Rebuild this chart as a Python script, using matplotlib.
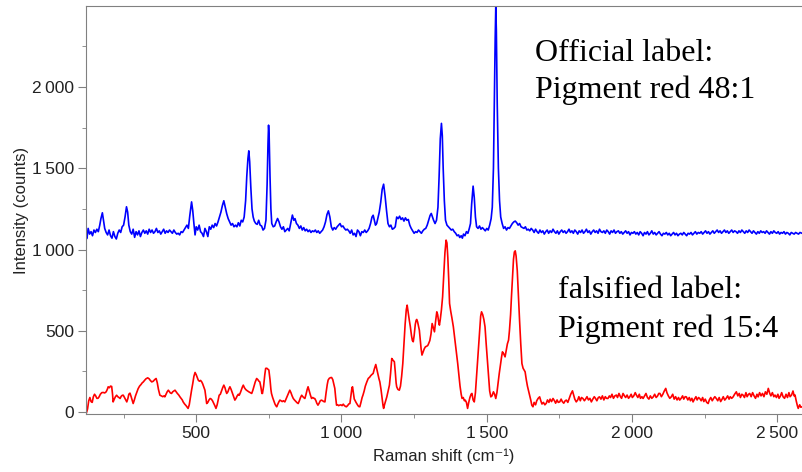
import numpy as np
import matplotlib
matplotlib.use('Agg')
import matplotlib.pyplot as plt
from matplotlib.ticker import MultipleLocator, FuncFormatter

plt.rcParams['font.family'] = ['Liberation Sans', 'DejaVu Sans']

# blue: official label, Pigment red 48:1 (shift cm-1, counts)
blue_shift = [
    120, 124, 128, 133, 138, 143, 148, 153, 158, 163, 168, 172, 177, 181, 185, 190, 195, 200, 205, 210,
    215, 220, 225, 230, 235, 240, 245, 250, 255, 260, 264, 268, 273, 278, 283, 288, 293, 298, 303, 308,
    313, 318, 323, 328, 333, 338, 343, 348, 353, 358, 363, 368, 373, 378, 383, 388, 393, 398, 403, 408,
    413, 418, 423, 428, 433, 438, 443, 448, 453, 458, 463, 468, 473, 478, 484, 488, 492, 496, 500, 505,
    510, 515, 520, 525, 530, 535, 540, 545, 550, 555, 560, 565, 570, 575, 580, 585, 590, 595, 600, 605,
    610, 615, 620, 625, 630, 635, 640, 645, 650, 655, 660, 665, 670, 674, 678, 681, 684, 688, 692, 696,
    700, 705, 710, 715, 720, 725, 730, 735, 740, 744, 747, 749, 751, 754, 757, 760, 765, 770, 775, 780,
    785, 790, 795, 800, 805, 810, 815, 820, 825, 831, 836, 840, 845, 850, 855, 860, 865, 870, 875, 880,
    885, 890, 895, 900, 905, 910, 915, 920, 925, 930, 935, 940, 945, 950, 955, 960, 965, 970, 975, 980,
    985, 990, 995, 1000, 1005, 1010, 1015, 1020, 1025, 1030, 1035, 1040, 1045, 1050, 1055, 1060, 1065, 1070, 1075, 1080,
    1085, 1090, 1095, 1100, 1105, 1109, 1113, 1117, 1121, 1125, 1130, 1135, 1140, 1145, 1150, 1155, 1160, 1165, 1170, 1175,
    1180, 1185, 1190, 1195, 1200, 1205, 1210, 1215, 1220, 1225, 1230, 1235, 1240, 1245, 1250, 1255, 1260, 1265, 1270, 1275,
    1280, 1285, 1290, 1295, 1300, 1305, 1309, 1313, 1317, 1322, 1327, 1332, 1336, 1340, 1344, 1347, 1350, 1354, 1358, 1363,
    1368, 1373, 1378, 1383, 1388, 1393, 1398, 1403, 1407, 1412, 1416, 1420, 1425, 1430, 1435, 1440, 1444, 1448, 1453, 1457,
    1461, 1465, 1470, 1475, 1480, 1485, 1490, 1495, 1500, 1505, 1510, 1515, 1519, 1523, 1526, 1529, 1531, 1533, 1536, 1540,
    1544, 1548, 1553, 1558, 1563, 1568, 1573, 1578, 1583, 1588, 1593, 1598, 1603, 1608, 1613, 1618, 1623, 1628, 1633, 1638,
    1643, 1648, 1653, 1658, 1663, 1668, 1673, 1678, 1683, 1688, 1693, 1698, 1703, 1708, 1713, 1718, 1723, 1728, 1733, 1738,
    1743, 1748, 1753, 1758, 1763, 1768, 1773, 1778, 1783, 1788, 1793, 1798, 1803, 1808, 1813, 1818, 1823, 1828, 1833, 1838,
    1843, 1848, 1853, 1858, 1863, 1868, 1873, 1878, 1883, 1888, 1893, 1898, 1903, 1908, 1913, 1918, 1923, 1928, 1933, 1938,
    1943, 1948, 1953, 1958, 1963, 1968, 1973, 1978, 1983, 1988, 1993, 1998, 2003, 2008, 2013, 2018, 2023, 2028, 2033, 2038,
    2043, 2048, 2053, 2058, 2063, 2068, 2073, 2078, 2083, 2088, 2093, 2098, 2103, 2108, 2113, 2118, 2123, 2128, 2133, 2138,
    2143, 2148, 2153, 2158, 2163, 2168, 2173, 2178, 2183, 2188, 2193, 2198, 2203, 2208, 2213, 2218, 2223, 2228, 2233, 2238,
    2243, 2248, 2253, 2258, 2263, 2268, 2273, 2278, 2283, 2288, 2293, 2298, 2303, 2308, 2313, 2318, 2323, 2328, 2333, 2338,
    2343, 2348, 2353, 2358, 2363, 2368, 2373, 2378, 2383, 2388, 2393, 2398, 2403, 2408, 2413, 2418, 2423, 2428, 2433, 2438,
    2443, 2448, 2453, 2458, 2463, 2468, 2473, 2478, 2483, 2488, 2493, 2498, 2503, 2508, 2513, 2518, 2523, 2528, 2533, 2538,
    2543, 2548, 2553, 2558, 2563, 2568, 2573, 2578, 2585]
blue_counts = [
    1075, 1068, 1130, 1095, 1110, 1085, 1120, 1105, 1125, 1110, 1150, 1190, 1226, 1180, 1130, 1105, 1090, 1120, 1085, 1070,
    1110, 1080, 1065, 1100, 1120, 1105, 1140, 1150, 1200, 1263, 1230, 1150, 1110, 1095, 1125, 1075, 1110, 1090, 1115, 1080,
    1105, 1120, 1100, 1115, 1095, 1125, 1105, 1120, 1100, 1110, 1130, 1105, 1115, 1095, 1110, 1125, 1100, 1115, 1105, 1120,
    1110, 1100, 1120, 1105, 1095, 1100, 1090, 1110, 1105, 1120, 1135, 1150, 1130, 1210, 1293, 1240, 1160, 1090, 1140, 1120,
    1150, 1110, 1100, 1080, 1130, 1110, 1080, 1140, 1125, 1150, 1135, 1160, 1145, 1170, 1200, 1230, 1270, 1300, 1260, 1220,
    1190, 1170, 1150, 1160, 1140, 1150, 1140, 1165, 1145, 1180, 1170, 1200, 1300, 1450, 1560, 1607, 1540, 1380, 1250, 1200,
    1175, 1160, 1155, 1180, 1150, 1145, 1120, 1130, 1180, 1400, 1650, 1765, 1700, 1450, 1250, 1160, 1140, 1145, 1170, 1191,
    1170, 1140, 1125, 1140, 1110, 1120, 1130, 1115, 1160, 1212, 1180, 1190, 1160, 1150, 1130, 1145, 1120, 1135, 1115, 1125,
    1110, 1120, 1105, 1115, 1110, 1120, 1105, 1115, 1100, 1110, 1120, 1140, 1170, 1215, 1238, 1200, 1140, 1120, 1135, 1125,
    1140, 1150, 1160, 1140, 1145, 1130, 1120, 1125, 1115, 1100, 1120, 1090, 1100, 1080, 1120, 1110, 1085, 1110, 1105, 1120,
    1105, 1115, 1130, 1160, 1200, 1211, 1180, 1150, 1160, 1190, 1230, 1290, 1370, 1402, 1330, 1240, 1160, 1140, 1150, 1125,
    1130, 1140, 1200, 1190, 1205, 1185, 1195, 1175, 1195, 1180, 1185, 1150, 1130, 1115, 1100, 1110, 1105, 1120, 1110, 1100,
    1115, 1125, 1130, 1150, 1180, 1210, 1222, 1200, 1180, 1160, 1180, 1260, 1450, 1680, 1776, 1700, 1500, 1300, 1180, 1150,
    1140, 1130, 1120, 1125, 1110, 1100, 1085, 1090, 1074, 1085, 1070, 1095, 1085, 1110, 1100, 1130, 1160, 1280, 1390, 1320,
    1200, 1140, 1130, 1145, 1125, 1135, 1125, 1115, 1130, 1120, 1150, 1190, 1260, 1500, 1900, 2300, 2490, 2350, 1900, 1500,
    1300, 1200, 1160, 1130, 1140, 1120, 1135, 1130, 1145, 1160, 1170, 1175, 1165, 1150, 1160, 1140, 1135, 1130, 1140, 1120,
    1125, 1115, 1130, 1120, 1105, 1125, 1110, 1100, 1120, 1105, 1115, 1095, 1110, 1120, 1100, 1115, 1105, 1125, 1110, 1100,
    1115, 1095, 1110, 1120, 1105, 1115, 1100, 1110, 1125, 1105, 1115, 1100, 1120, 1110, 1095, 1115, 1105, 1120, 1100, 1110,
    1125, 1105, 1115, 1095, 1110, 1120, 1105, 1115, 1100, 1125, 1110, 1105, 1115, 1100, 1120, 1110, 1095, 1115, 1105, 1120,
    1100, 1110, 1115, 1100, 1110, 1095, 1105, 1115, 1100, 1110, 1090, 1105, 1100, 1110, 1095, 1105, 1090, 1110, 1100, 1085,
    1105, 1095, 1110, 1090, 1100, 1115, 1095, 1105, 1090, 1100, 1110, 1095, 1085, 1100, 1095, 1105, 1090, 1100, 1085, 1095,
    1105, 1090, 1100, 1085, 1095, 1100, 1090, 1105, 1095, 1085, 1100, 1095, 1105, 1090, 1100, 1110, 1095, 1105, 1100, 1110,
    1095, 1105, 1115, 1100, 1110, 1095, 1105, 1115, 1100, 1110, 1120, 1105, 1115, 1100, 1110, 1120, 1105, 1115, 1100, 1110,
    1120, 1105, 1115, 1110, 1100, 1115, 1105, 1120, 1110, 1100, 1115, 1105, 1120, 1110, 1100, 1115, 1105, 1095, 1110, 1100,
    1115, 1105, 1110, 1100, 1115, 1105, 1095, 1110, 1100, 1115, 1105, 1100, 1110, 1095, 1105, 1100, 1110, 1095, 1105, 1100,
    1090, 1105, 1100, 1095, 1105, 1100, 1095, 1105, 1100]

# red: falsified label, Pigment red 15:4
red_shift = [
    122, 126, 130, 134, 138, 142, 146, 150, 154, 158, 162, 166, 170, 175, 180, 185, 190, 194, 197, 201,
    205, 209, 212, 214, 218, 222, 226, 230, 234, 238, 242, 246, 249, 253, 257, 261, 265, 268, 272, 276,
    280, 283, 287, 291, 295, 300, 305, 310, 314, 318, 322, 327, 333, 338, 342, 347, 352, 357, 362, 366,
    370, 375, 380, 385, 389, 392, 396, 400, 404, 408, 411, 415, 419, 423, 427, 431, 435, 440, 444, 448,
    452, 455, 460, 465, 469, 472, 476, 480, 484, 488, 492, 496, 500, 504, 507, 511, 515, 519, 522, 526,
    530, 533, 536, 540, 544, 548, 552, 556, 560, 564, 568, 572, 576, 579, 583, 587, 591, 595, 599, 602,
    605, 609, 613, 616, 620, 624, 628, 633, 637, 641, 645, 648, 652, 656, 659, 662, 666, 670, 673, 677,
    681, 686, 691, 695, 699, 703, 708, 712, 716, 719, 723, 726, 728, 732, 736, 739, 743, 746, 750, 754,
    757, 759, 763, 767, 771, 774, 777, 781, 785, 788, 792, 796, 800, 805, 809, 814, 818, 822, 826, 830,
    834, 838, 843, 847, 851, 855, 859, 863, 867, 871, 874, 878, 882, 885, 889, 893, 897, 901, 905, 908,
    912, 915, 919, 923, 927, 931, 935, 939, 943, 947, 951, 954, 958, 962, 966, 970, 974, 977, 980, 983,
    987, 990, 994, 998, 1002, 1006, 1010, 1014, 1017, 1021, 1025, 1029, 1033, 1036, 1038, 1041, 1044, 1046, 1050, 1055,
    1059, 1063, 1067, 1071, 1074, 1078, 1082, 1087, 1092, 1097, 1101, 1105, 1109, 1113, 1118, 1122, 1126, 1129, 1132, 1136,
    1140, 1143, 1145, 1148, 1152, 1156, 1160, 1165, 1169, 1173, 1177, 1182, 1185, 1188, 1190, 1194, 1199, 1203, 1207, 1211,
    1215, 1219, 1223, 1226, 1229, 1233, 1237, 1241, 1244, 1247, 1250, 1254, 1257, 1259, 1262, 1265, 1268, 1271, 1274, 1277,
    1281, 1285, 1289, 1293, 1297, 1300, 1304, 1308, 1312, 1316, 1320, 1324, 1328, 1331, 1334, 1337, 1340, 1344, 1348, 1352,
    1356, 1360, 1363, 1366, 1369, 1372, 1376, 1380, 1385, 1390, 1395, 1400, 1404, 1408, 1412, 1415, 1419, 1423, 1426, 1430,
    1434, 1438, 1442, 1446, 1449, 1453, 1457, 1461, 1464, 1468, 1472, 1476, 1479, 1482, 1486, 1490, 1494, 1498, 1503, 1507,
    1510, 1514, 1518, 1523, 1527, 1531, 1535, 1539, 1543, 1547, 1551, 1554, 1558, 1563, 1567, 1571, 1575, 1578, 1582, 1585,
    1589, 1592, 1595, 1598, 1601, 1605, 1609, 1613, 1617, 1621, 1625, 1628, 1632, 1636, 1640, 1644, 1648, 1652, 1655, 1659,
    1663, 1668, 1672, 1677, 1682, 1686, 1690, 1695, 1700, 1705, 1709, 1714, 1718, 1723, 1728, 1733, 1737, 1742, 1746, 1751,
    1756, 1760, 1765, 1770, 1774, 1779, 1784, 1789, 1795, 1799, 1803, 1808, 1813, 1817, 1822, 1826, 1831, 1836, 1840, 1845,
    1850, 1855, 1860, 1865, 1870, 1874, 1879, 1884, 1888, 1893, 1898, 1903, 1908, 1912, 1917, 1922, 1926, 1931, 1936, 1941,
    1946, 1950, 1955, 1960, 1964, 1969, 1974, 1978, 1983, 1988, 1992, 1997, 2001, 2006, 2011, 2015, 2020, 2025, 2029, 2034,
    2038, 2043, 2048, 2053, 2058, 2063, 2068, 2073, 2078, 2083, 2088, 2092, 2096, 2101, 2106, 2111, 2116, 2120, 2125, 2130,
    2135, 2140, 2145, 2150, 2155, 2160, 2164, 2169, 2174, 2178, 2183, 2187, 2192, 2197, 2201, 2206, 2210, 2215, 2220, 2224,
    2229, 2233, 2238, 2243, 2247, 2252, 2257, 2262, 2266, 2271, 2276, 2281, 2285, 2290, 2295, 2300, 2305, 2310, 2314, 2319,
    2324, 2329, 2334, 2338, 2343, 2348, 2353, 2359, 2364, 2369, 2373, 2378, 2382, 2387, 2392, 2396, 2401, 2405, 2410, 2415,
    2420, 2425, 2430, 2434, 2439, 2444, 2449, 2454, 2459, 2464, 2469, 2474, 2478, 2483, 2488, 2492, 2497, 2502, 2506, 2511,
    2515, 2520, 2525, 2530, 2535, 2540, 2544, 2549, 2554, 2558, 2561, 2565, 2569, 2572, 2577, 2581, 2585]
red_counts = [
    -5, 20, 70, 90, 65, 60, 95, 110, 100, 85, 85, 95, 110, 120, 121, 118, 125, 140, 156, 150,
    160, 158, 110, 63, 80, 95, 104, 95, 90, 84, 98, 104, 104, 90, 75, 63, 85, 110, 117, 95,
    70, 53, 75, 100, 120, 144, 160, 170, 180, 186, 195, 205, 211, 205, 195, 186, 190, 200, 207, 180,
    140, 104, 100, 95, 100, 94, 110, 125, 135, 125, 118, 115, 125, 130, 135, 125, 115, 105, 94, 85,
    75, 63, 50, 40, 30, 23, 45, 90, 135, 175, 220, 244, 230, 210, 197, 190, 195, 186, 175, 155,
    135, 95, 53, 60, 75, 84, 80, 70, 55, 40, 23, 45, 80, 104, 110, 130, 150, 166, 150, 130,
    115, 125, 145, 156, 140, 120, 100, 74, 85, 100, 110, 104, 120, 140, 155, 166, 150, 140, 135, 130,
    125, 120, 115, 135, 160, 185, 207, 200, 190, 186, 150, 115, 115, 160, 230, 269, 270, 265, 259, 200,
    140, 115, 90, 70, 50, 40, 33, 50, 65, 74, 70, 65, 70, 63, 80, 100, 120, 135, 120, 100,
    84, 75, 65, 58, 53, 70, 90, 104, 95, 88, 84, 110, 140, 156, 130, 105, 84, 90, 85, 84,
    70, 55, 43, 55, 70, 74, 70, 65, 63, 120, 170, 197, 208, 212, 213, 200, 170, 146, 90, 43,
    45, 40, 43, 45, 40, 49, 40, 35, 33, 40, 50, 53, 110, 150, 156, 120, 80, 74, 60, 45,
    35, 33, 60, 90, 105, 130, 160, 185, 207, 215, 225, 232, 238, 265, 293, 260, 230, 205, 186, 140,
    80, 40, 23, 45, 70, 94, 125, 166, 240, 330, 320, 310, 250, 180, 156, 140, 135, 160, 220, 299,
    420, 540, 630, 658, 620, 570, 525, 470, 440, 433, 470, 540, 565, 570, 555, 530, 504, 450, 390, 351,
    370, 390, 402, 405, 410, 422, 440, 480, 545, 520, 494, 560, 617, 600, 560, 535, 570, 630, 709, 840,
    980, 1058, 1040, 950, 820, 668, 620, 580, 525, 450, 370, 299, 230, 160, 110, 84, 90, 70, 74, 60,
    23, 60, 90, 110, 115, 75, 63, 120, 200, 299, 420, 530, 590, 617, 600, 570, 525, 420, 299, 200,
    130, 94, 100, 125, 110, 84, 120, 180, 238, 290, 340, 371, 360, 340, 380, 420, 443, 500, 600, 709,
    840, 940, 985, 992, 960, 870, 709, 560, 420, 299, 270, 260, 248, 200, 160, 130, 100, 70, 43, 33,
    60, 45, 70, 85, 94, 70, 50, 60, 45, 55, 75, 60, 80, 65, 84, 70, 55, 75, 60, 63,
    80, 65, 55, 70, 74, 60, 85, 110, 131, 105, 80, 63, 75, 95, 70, 90, 84, 70, 80, 95,
    75, 85, 63, 80, 95, 85, 70, 90, 94, 80, 100, 75, 95, 85, 84, 100, 90, 110, 85, 100,
    105, 90, 115, 95, 85, 115, 100, 90, 105, 85, 94, 110, 90, 100, 120, 105, 90, 110, 85, 95,
    84, 100, 115, 90, 80, 100, 85, 94, 110, 90, 100, 115, 115, 95, 110, 130, 146, 120, 100, 85,
    94, 110, 80, 95, 75, 90, 74, 85, 100, 80, 95, 94, 75, 90, 70, 85, 63, 80, 95, 75,
    90, 84, 70, 90, 65, 80, 60, 53, 75, 90, 70, 85, 95, 84, 70, 90, 65, 80, 95, 74,
    85, 100, 80, 95, 85, 94, 110, 125, 100, 115, 90, 110, 105, 90, 120, 95, 110, 115, 95, 120,
    100, 85, 110, 94, 120, 100, 115, 95, 125, 110, 146, 115, 100, 120, 95, 105, 90, 110, 85, 100,
    120, 94, 85, 110, 90, 120, 95, 105, 130, 100, 105, 70, 40, 23, 45, 30, 33]

x_major = [500, 1000, 1500, 2000, 2500]
y_major = [0, 500, 1000, 1500, 2000]

blue_label = ['Official label:', 'Pigment red 48:1']
red_label = ['falsified label:', 'Pigment red 15:4']


def thin_sep(v, pos):
    return f'{v:,.0f}'.replace(',', '\u2009')


fig = plt.figure(figsize=(8.02, 4.72), dpi=100)
ax = fig.add_axes([0.107, 0.122, 0.893, 0.865])

ax.plot(blue_shift, blue_counts, color='#0000ff', lw=1.2)
ax.plot(red_shift, red_counts, color='#ff0000', lw=1.2)

ax.set_xlim(120, 2585)
ax.set_ylim(-14, 2497)
ax.set_xticks(x_major)
ax.set_yticks(y_major)
ax.xaxis.set_minor_locator(MultipleLocator(250))
ax.yaxis.set_minor_locator(MultipleLocator(250))
ax.xaxis.set_major_formatter(FuncFormatter(thin_sep))
ax.yaxis.set_major_formatter(FuncFormatter(thin_sep))

for side in ['left', 'bottom', 'top']:
    ax.spines[side].set_color('#808080')
ax.spines['right'].set_visible(False)
ax.tick_params(which='major', length=5.5, color='#808080', labelsize=12.5,
               labelcolor='#222222', pad=3)
ax.tick_params(which='minor', length=3, color='#808080')
ax.tick_params(axis='x', which='both', top=False)

ax.set_xlabel('Raman shift (cm\u207b\u00b9)', fontsize=12, color='#222222', labelpad=5)
ax.set_ylabel('Intensity (counts)', fontsize=12, color='#222222', labelpad=2)

serif = ['Liberation Serif', 'DejaVu Serif']
fig.text(535 / 802, 1 - 61 / 472, blue_label[0], family=serif, fontsize=23, va='baseline')
fig.text(535 / 802, 1 - 98 / 472, blue_label[1], family=serif, fontsize=23, va='baseline')
fig.text(558 / 802, 1 - 298 / 472, red_label[0], family=serif, fontsize=23, va='baseline')
fig.text(558 / 802, 1 - 337 / 472, red_label[1], family=serif, fontsize=23, va='baseline')

fig.savefig('out.png', dpi=100)
